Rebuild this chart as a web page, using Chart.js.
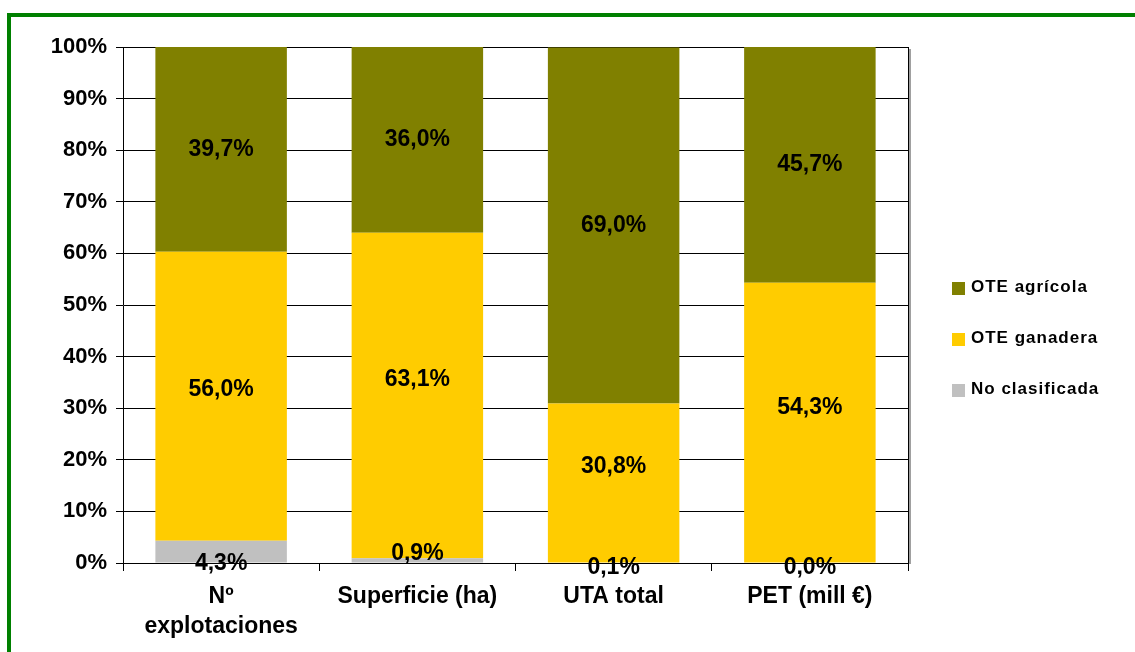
<!DOCTYPE html>
<html>
<head>
<meta charset="utf-8">
<script src="https://cdn.jsdelivr.net/npm/chart.js@4.4.0/dist/chart.umd.min.js"></script>
<style>
  html, body { margin: 0; padding: 0; background: #fff; overflow: hidden; }
  #wrap { position: relative; width: 1135px; height: 652px; }
  #frame { position: absolute; left: 7px; top: 13px; width: 1200px; height: 700px;
           border-left: 4px solid #008000; border-top: 4px solid #008000; pointer-events: none; }
  canvas { position: absolute; left: 0; top: 0; }
</style>
</head>
<body>
<div id="wrap">
  <canvas id="otes" width="1135" height="652"></canvas>
  <div id="frame"></div>
</div>
<script>
var categories = [["Nº", "explotaciones"], "Superficie (ha)", "UTA total", "PET (mill €)"];
var noClasificada = [4.3, 0.9, 0.1, 0.0];
var oteGanadera = [56.0, 63.1, 30.8, 54.3];
var oteAgricola = [39.7, 36.0, 69.0, 45.7];

var fontFamily = "'Liberation Sans', Arial, Helvetica, sans-serif";
Chart.defaults.font.family = fontFamily;
Chart.defaults.font.weight = "bold";
Chart.defaults.color = "#000";

// labels in the middle of each piece, nudged like the original
var segmentLabels = {
  id: "segmentLabels",
  afterDatasetsDraw: function (chart, args, opts) {
    var ctx = chart.ctx;
    ctx.save();
    ctx.font = "bold 23px " + fontFamily;
    ctx.fillStyle = "#000";
    ctx.textAlign = "center";
    ctx.textBaseline = "middle";
    chart.data.datasets.forEach(function (ds, i) {
      chart.getDatasetMeta(i).data.forEach(function (bar, j) {
        var y = (bar.y + bar.base) / 2 + opts.nudge[i][j];
        ctx.fillText(ds.data[j].toFixed(1).replace(".", ",") + "%", bar.x, y);
      });
    });
    ctx.restore();
  }
};

// right edge of plot area with its shadow
var plotFrame = {
  id: "plotFrame",
  afterDraw: function (chart) {
    var a = chart.chartArea, ctx = chart.ctx;
    ctx.save();
    ctx.fillStyle = "#a0a0a0";
    ctx.fillRect(Math.round(a.right) + 1, Math.round(a.top) + 2, 2, Math.round(a.bottom - a.top) - 1);
    ctx.fillStyle = "#000";
    ctx.fillRect(Math.round(a.right), Math.round(a.top), 1, Math.round(a.bottom - a.top));
    ctx.restore();
  }
};

var sideLegend = {
  id: "sideLegend",
  afterDraw: function (chart, args, opts) {
    var a = chart.chartArea, ctx = chart.ctx;
    ctx.save();
    ctx.font = "bold 17px " + fontFamily;
    ctx.letterSpacing = "1px";
    ctx.textAlign = "left";
    ctx.textBaseline = "middle";
    chart.data.datasets.slice().reverse().forEach(function (ds, k) {
      var cy = a.top + opts.top + k * opts.step;
      var x = a.right + opts.left;
      ctx.fillStyle = ds.backgroundColor;
      ctx.fillRect(x, cy - 6, 13, 13);
      ctx.fillStyle = "#000";
      ctx.fillText(ds.label, x + 19, cy - 1);
    });
    ctx.restore();
  }
};

var ctx = document.getElementById("otes");
var otes = new Chart(ctx, {
  type: "bar",
  data: {
    labels: categories,
    datasets: [
      { label: "No clasificada", data: noClasificada, backgroundColor: "#c0c0c0" },
      { label: "OTE ganadera", data: oteGanadera, backgroundColor: "#ffcc00" },
      { label: "OTE agrícola", data: oteAgricola, backgroundColor: "#808000" }
    ]
  },
  plugins: [segmentLabels, plotFrame, sideLegend],
  options: {
    responsive: false,
    animation: false,
    barPercentage: 0.67,
    categoryPercentage: 1.0,
    layout: { padding: { top: 47, right: 227, bottom: 0, left: 0 } },
    plugins: {
      legend: { display: false },
      tooltip: { enabled: false },
      segmentLabels: { nudge: [[12, -7, 5, 5], [-7, -16, -16, -15], [0, 0, 0, 0]] },
      sideLegend: { top: 241, step: 51, left: 44 }
    },
    scales: {
      x: {
        stacked: true,
        grid: { drawOnChartArea: false, color: "#000", tickLength: 8, offset: true },
        border: { color: "#000" },
        ticks: { color: "#000", padding: 11, maxRotation: 0, font: { size: 23, weight: "bold", lineHeight: 1.3 } },
        afterFit: function (scale) { scale.height = 89; }
      },
      y: {
        stacked: true,
        min: 0,
        max: 100,
        grid: { color: "#000", tickLength: 7 },
        border: { color: "#000" },
        ticks: {
          stepSize: 10,
          padding: 9,
          color: "#000",
          font: { size: 22, weight: "bold" },
          callback: function (v) { return v + "%"; }
        },
        afterFit: function (scale) { scale.width = 123; }
      }
    }
  }
});
</script>
</body>
</html>
